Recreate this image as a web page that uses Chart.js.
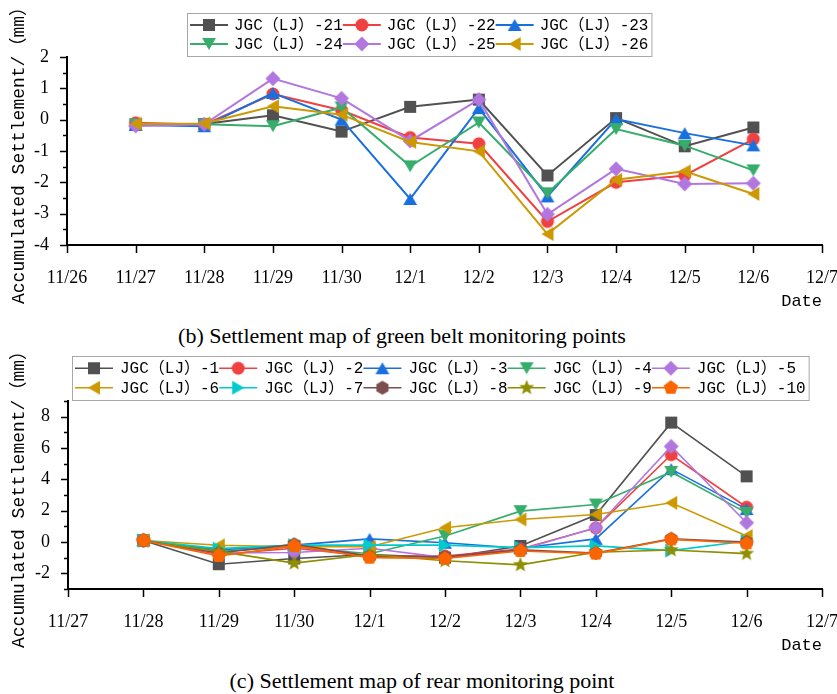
<!DOCTYPE html>
<html>
<head>
<meta charset="utf-8">
<script src="https://cdn.jsdelivr.net/npm/chart.js@4.4.1/dist/chart.umd.min.js"></script>
<style>
  body { margin: 0; background: #fff; }
  #wrap { position: relative; width: 837px; height: 694px; overflow: hidden; }
  canvas { position: absolute; left: 0; }
  .cap { position: absolute; white-space: nowrap; transform: translateX(-50%);
         font-family: 'Liberation Serif', 'Times New Roman', serif; font-size: 22px; color: #000; line-height: 26px; }
</style>
</head>
<body>
<div id="wrap">
  <canvas id="chart1" width="837" height="315" style="top:0px"></canvas>
  <div class="cap" style="left:402px; top:323px">(b) Settlement map of green belt monitoring points</div>
  <canvas id="chart2" width="837" height="315" style="top:344px"></canvas>
  <div class="cap" style="left:422px; top:668px">(c) Settlement map of rear monitoring point</div>
</div>
<script>
// ---- data: (b) green belt points, 11/27 ~ 12/6
const dates1 = ['11/26', '11/27', '11/28', '11/29', '11/30', '12/1', '12/2', '12/3', '12/4', '12/5', '12/6', '12/7'];
const names1 = ['JGC（LJ）-21', 'JGC（LJ）-22', 'JGC（LJ）-23', 'JGC（LJ）-24', 'JGC（LJ）-25', 'JGC（LJ）-26'];
const lj21 = [-0.16, -0.14, 0.14, -0.38, 0.41, 0.64, -1.78, 0.05, -0.85, -0.25];
const lj22 = [-0.10, -0.16, 0.82, 0.30, -0.57, -0.77, -3.25, -2.00, -1.78, -0.62];
const lj23 = [-0.17, -0.21, 0.85, 0.00, -2.53, 0.37, -2.45, 0.02, -0.43, -0.82];
const lj24 = [-0.15, -0.15, -0.21, 0.39, -1.49, -0.09, -2.35, -0.30, -0.83, -1.62];
const lj25 = [-0.20, -0.15, 1.31, 0.68, -0.68, 0.64, -3.02, -1.57, -2.05, -2.03];
const lj26 = [-0.13, -0.12, 0.43, 0.16, -0.71, -1.01, -3.65, -1.92, -1.65, -2.37];

// ---- data: (c) rear points, 11/28 ~ 12/6
const dates2 = ['11/27', '11/28', '11/29', '11/30', '12/1', '12/2', '12/3', '12/4', '12/5', '12/6', '12/7'];
const names2 = ['JGC（LJ）-1', 'JGC（LJ）-2', 'JGC（LJ）-3', 'JGC（LJ）-4', 'JGC（LJ）-5',
                'JGC（LJ）-6', 'JGC（LJ）-7', 'JGC（LJ）-8', 'JGC（LJ）-9', 'JGC（LJ）-10'];
const lj1  = [0.10, -1.42, -1.05, -0.80, -1.00, -0.25, 1.72, 7.62, 4.19];
const lj2  = [0.10, -0.80, -0.40, -0.90, -0.90, -0.45, 0.90, 5.57, 2.22];
const lj3  = [0.10, -0.50, -0.20, 0.20, -0.05, -0.40, 0.20, 4.65, 2.10];
const lj4  = [0.10, -0.60, -0.30, -0.75, 0.38, 1.97, 2.39, 4.47, 1.86];
const lj5  = [0.10, -0.70, -0.67, -0.40, -1.00, -0.50, 0.91, 6.10, 1.23];
const lj6  = [0.10, -0.21, -0.30, -0.30, 0.91, 1.44, 1.76, 2.50, 0.38];
const lj7  = [0.10, -0.42, -0.20, -0.20, -0.20, -0.36, -0.25, -0.55, 0.06];
const lj8  = [0.10, -0.70, -0.15, -0.90, -0.95, -0.50, -0.70, 0.20, 0.00];
const lj9  = [0.05, -0.60, -1.35, -0.80, -1.20, -1.46, -0.65, -0.51, -0.74];
const lj10 = [0.10, -0.89, -0.25, -1.00, -1.05, -0.57, -0.74, 0.17, -0.08];

// styles
const colors = ['#515151', '#F14040', '#1A6FDF', '#37AD6B', '#B177DE', '#CC9900', '#00CBCC', '#7D4E4E', '#8E8E00', '#FB6501'];
const shapes = ['square', 'circle', 'up', 'down', 'diamond', 'left', 'right', 'hexagon', 'star', 'pentagon'];
const MONO = "'Liberation Mono', 'Noto Sans CJK SC', monospace";
const SERIF = "'Liberation Serif', 'Times New Roman', serif";

function poly(g, n, r, startDeg, inner) {
  const cnt = inner ? n * 2 : n;
  for (let i = 0; i < cnt; i++) {
    const a = (startDeg + i * 360 / cnt) * Math.PI / 180;
    const rr = (inner && i % 2) ? inner : r;
    if (i == 0) g.moveTo(rr * Math.cos(a), rr * Math.sin(a));
    else g.lineTo(rr * Math.cos(a), rr * Math.sin(a));
  }
  g.closePath();
}

// marker images (used as pointStyle and in the legend)
function marker(shape, color) {
  const c = document.createElement('canvas');
  c.width = 18; c.height = 18;
  const g = c.getContext('2d');
  g.fillStyle = color;
  g.translate(9, 9);
  g.beginPath();
  switch (shape) {
    case 'square': g.rect(-6, -6, 12, 12); break;
    case 'circle': g.arc(0, 0, 6.5, 0, Math.PI * 2); break;
    case 'up': g.translate(0, 2); poly(g, 3, 8, -90); break;
    case 'down': g.translate(0, -2); poly(g, 3, 8, 90); break;
    case 'left': g.translate(2, 0); poly(g, 3, 8, 180); break;
    case 'right': g.translate(-2, 0); poly(g, 3, 8, 0); break;
    case 'diamond': poly(g, 4, 7.5, -90); break;
    case 'hexagon': poly(g, 6, 7, -90); break;
    case 'star': poly(g, 5, 8, -90, 3.4); break;
    case 'pentagon': poly(g, 5, 7.5, -90); break;
  }
  g.fill();
  return c;
}

// minor / major tick marks drawn outside the plot
const tickMarks = {
  id: 'tickMarks',
  afterDraw(chart) {
    const ctx = chart.ctx, xs = chart.scales.x, ys = chart.scales.y;
    ctx.save();
    ctx.strokeStyle = '#000';
    ctx.lineWidth = 1.5;
    ctx.beginPath();
    xs.ticks.forEach((t, i) => {
      const p = Math.round(xs.getPixelForTick(i)) + 0.5;
      ctx.moveTo(p, xs.top); ctx.lineTo(p, xs.top + 8);
    });
    ys.ticks.forEach((t, i) => {
      const p = Math.round(ys.getPixelForTick(i)) + 0.5;
      const len = t.label !== '' ? 7 : 4;
      ctx.moveTo(ys.right, p); ctx.lineTo(ys.right - len, p);
    });
    ctx.stroke();
    ctx.restore();
  }
};

// boxed legend, grid of columns like Origin
const boxLegend = {
  id: 'boxLegend',
  afterDraw(chart, args, o) {
    const ctx = chart.ctx;
    const ds = chart.data.datasets;
    const rows = Math.ceil(ds.length / o.cols);
    ctx.save();
    ctx.font = o.font;
    let widths = [];
    for (let c = 0; c < o.cols; c++) {
      let w = 0;
      for (let r = 0; r < rows; r++) {
        const d = ds[r * o.cols + c];
        if (d) w = Math.max(w, ctx.measureText(d.label).width);
      }
      widths.push(o.line + o.gap + w);
    }
    const total = widths.reduce((a, b) => a + b, 0) + o.padX * 2;
    const h = o.rowH * rows + o.padY * 2;
    ctx.strokeStyle = '#a8a8a8';
    ctx.lineWidth = 1;
    ctx.strokeRect(o.left + 0.5, o.top + 0.5, total, h);
    ctx.textBaseline = 'middle';
    ctx.textAlign = 'left';
    ds.forEach((d, i) => {
      const c = i % o.cols, r = Math.floor(i / o.cols);
      let x = o.left + o.padX;
      for (let k = 0; k < c; k++) x += widths[k];
      const y = o.top + o.padY + o.rowH * (r + 0.5);
      ctx.strokeStyle = d.borderColor;
      ctx.lineWidth = d.borderWidth;
      ctx.beginPath();
      ctx.moveTo(x, y); ctx.lineTo(x + o.line, y);
      ctx.stroke();
      const img = d.pointStyle;
      ctx.drawImage(img, x + o.line / 2 - img.width / 2, y - img.height / 2);
      ctx.fillStyle = '#000';
      ctx.fillText(d.label, x + o.line + o.gap, y + 1);
    });
    ctx.restore();
  }
};

function makeChart(id, labels, series, names, yOpt, legendOpt) {
  const datasets = series.map((arr, i) => ({
    label: names[i],
    data: [null].concat(arr, [null]),
    borderColor: colors[i],
    backgroundColor: colors[i],
    borderWidth: yOpt.lw,
    pointStyle: marker(shapes[i], colors[i]),
    pointRadius: 6,
    pointHoverRadius: 6,
    tension: 0,
    order: -i,
    clip: false
  }));
  return new Chart(document.getElementById(id), {
    type: 'line',
    data: { labels: labels, datasets: datasets },
    plugins: [tickMarks, boxLegend],
    options: {
      responsive: false,
      animation: false,
      devicePixelRatio: 1,
      layout: { padding: { left: 0, right: 15, top: 57, bottom: 0 } },
      plugins: {
        legend: { display: false },
        tooltip: { enabled: false },
        boxLegend: legendOpt
      },
      scales: {
        x: {
          type: 'category',
          offset: false,
          grid: { display: false },
          border: { display: true, color: '#000', width: 2 },
          ticks: { autoSkip: false, maxRotation: 0, color: '#000', padding: 14,
                   font: { family: SERIF, size: 18 } },
          title: { display: true, text: 'Date', align: 'end', color: '#000',
                   font: { family: MONO, size: 17 }, padding: { top: 0, bottom: 3 } },
          afterFit(s) { s.height = 70; s.paddingLeft = 0; s.paddingRight = 0; }
        },
        y: {
          min: yOpt.min,
          max: yOpt.max,
          grid: { display: false },
          border: { display: true, color: '#000', width: 2 },
          ticks: { stepSize: yOpt.step, maxTicksLimit: 100, autoSkip: false,
                   color: '#000', padding: 10,
                   font: { family: SERIF, size: 18 },
                   callback: v => (Math.abs(v % yOpt.major) < 1e-9 ? v : '') },
          title: { display: true, text: 'Accumulated Settlement/（mm）', color: '#000',
                   font: { family: MONO, size: 18 }, padding: { top: 8, bottom: 0 } },
          afterFit(s) { s.width = yOpt.left; s.paddingTop = 0; s.paddingBottom = 0; }
        }
      }
    }
  });
}

makeChart('chart1', dates1, [lj21, lj22, lj23, lj24, lj25, lj26], names1,
  { min: -4, max: 2, step: 0.5, major: 1, lw: 2, left: 67 },
  { cols: 3, left: 187, top: 13, rowH: 19, padX: 3, padY: 2.5, line: 38, gap: 6,
    font: '16px ' + MONO });

makeChart('chart2', dates2, [lj1, lj2, lj3, lj4, lj5, lj6, lj7, lj8, lj9, lj10], names2,
  { min: -3, max: 9, step: 1, major: 2, lw: 1.6, left: 68 },
  { cols: 5, left: 72, top: 12, rowH: 19.5, padX: 3, padY: 2.5, line: 38, gap: 7,
    font: '16px ' + MONO });
</script>
</body>
</html>
